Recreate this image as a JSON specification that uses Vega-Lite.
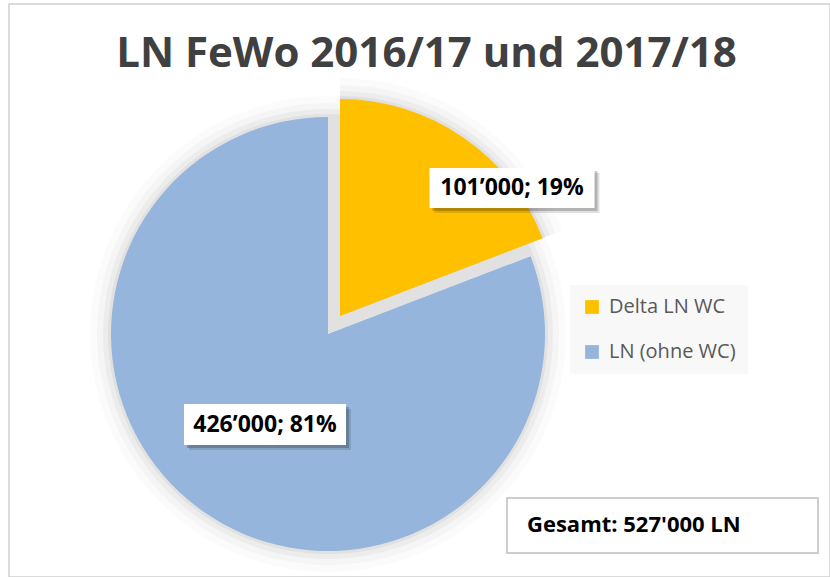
{
  "$schema": "https://vega.github.io/schema/vega-lite/v6.json",
  "width": 821,
  "height": 573,
  "autosize": {"type": "none"},
  "padding": {"left": 9, "top": 4, "right": 0, "bottom": 0},
  "background": "white",
  "view": {"stroke": "#D0D0D0", "strokeWidth": 1.5, "fill": "white"},
  "title": {
    "text": "LN FeWo 2016/17 und 2017/18",
    "font": "Open Sans",
    "fontSize": 42,
    "fontWeight": "bold",
    "color": "#404040",
    "anchor": "middle",
    "offset": -72,
    "dx": 7
  },
  "config": {
    "view": {"stroke": "#D0D0D0", "strokeWidth": 1.5},
    "font": "Open Sans"
  },
  "data": {
    "values": [
      {"cat": "Delta LN WC", "value": 101000, "label": "101’000; 19%"},
      {"cat": "LN (ohne WC)", "value": 426000, "label": "426’000; 81%"}
    ]
  },
  "transform": [
    {"stack": "value", "groupby": [], "as": ["v0", "v1"], "sort": [{"field": "cat", "order": "ascending"}]}
  ],
  "layer": [
    {
      "mark": {"type": "arc", "outerRadius": 238, "xOffset": -91.5, "yOffset": 43.5, "fill": "#000", "fillOpacity": 0.015},
      "encoding": {
        "theta": {"field": "v0", "type": "quantitative", "scale": {"domain": [0, 527000]}},
        "theta2": {"field": "v1"}
      }
    },
    {
      "mark": {"type": "arc", "outerRadius": 231, "xOffset": -91.5, "yOffset": 43.5, "fill": "#000", "fillOpacity": 0.025},
      "encoding": {
        "theta": {"field": "v0", "type": "quantitative"},
        "theta2": {"field": "v1"}
      }
    },
    {
      "mark": {"type": "arc", "outerRadius": 225, "xOffset": -91.5, "yOffset": 43.5, "fill": "#000", "fillOpacity": 0.035},
      "encoding": {
        "theta": {"field": "v0", "type": "quantitative"},
        "theta2": {"field": "v1"}
      }
    },
    {
      "mark": {"type": "arc", "outerRadius": 220, "xOffset": -91.5, "yOffset": 43.5, "fill": "#000", "fillOpacity": 0.045},
      "encoding": {
        "theta": {"field": "v0", "type": "quantitative"},
        "theta2": {"field": "v1"}
      }
    },
    {
      "transform": [{"filter": "datum.cat === 'Delta LN WC'"}],
      "mark": {"type": "arc", "outerRadius": 238, "xOffset": -79.5, "yOffset": 25.5, "fill": "#000", "fillOpacity": 0.015},
      "encoding": {
        "theta": {"field": "v0", "type": "quantitative"},
        "theta2": {"field": "v1"}
      }
    },
    {
      "transform": [{"filter": "datum.cat === 'Delta LN WC'"}],
      "mark": {"type": "arc", "outerRadius": 231, "xOffset": -79.5, "yOffset": 25.5, "fill": "#000", "fillOpacity": 0.025},
      "encoding": {
        "theta": {"field": "v0", "type": "quantitative"},
        "theta2": {"field": "v1"}
      }
    },
    {
      "transform": [{"filter": "datum.cat === 'Delta LN WC'"}],
      "mark": {"type": "arc", "outerRadius": 225, "xOffset": -79.5, "yOffset": 25.5, "fill": "#000", "fillOpacity": 0.035},
      "encoding": {
        "theta": {"field": "v0", "type": "quantitative"},
        "theta2": {"field": "v1"}
      }
    },
    {
      "transform": [{"filter": "datum.cat === 'Delta LN WC'"}],
      "mark": {"type": "arc", "outerRadius": 220, "xOffset": -79.5, "yOffset": 25.5, "fill": "#000", "fillOpacity": 0.045},
      "encoding": {
        "theta": {"field": "v0", "type": "quantitative"},
        "theta2": {"field": "v1"}
      }
    },
    {
      "transform": [{"filter": "datum.cat === 'LN (ohne WC)'"}],
      "mark": {"type": "arc", "outerRadius": 217, "xOffset": -91.5, "yOffset": 43.5},
      "encoding": {
        "theta": {"field": "v0", "type": "quantitative"},
        "theta2": {"field": "v1"},
        "color": {
          "field": "cat",
          "type": "nominal",
          "scale": {"domain": ["Delta LN WC", "LN (ohne WC)"], "range": ["#FFC000", "#95B5DC"]},
          "legend": {
            "title": null,
            "orient": "none",
            "legendX": 561,
            "legendY": 281,
            "padding": 12,
            "fillColor": "#F8F8F8",
            "symbolType": "square",
            "symbolSize": 190,
            "symbolStrokeWidth": 0,
            "labelFont": "Open Sans",
            "labelFontSize": 20,
            "labelColor": "#595959",
            "labelOffset": 7,
            "rowPadding": 25
          }
        }
      }
    },
    {
      "transform": [{"filter": "datum.cat === 'Delta LN WC'"}],
      "mark": {"type": "arc", "outerRadius": 217, "xOffset": -79.5, "yOffset": 25.5},
      "encoding": {
        "theta": {"field": "v0", "type": "quantitative"},
        "theta2": {"field": "v1"},
        "color": {"field": "cat", "type": "nominal"}
      }
    },
    {
      "transform": [{"filter": "datum.cat === 'Delta LN WC'"}],
      "mark": {"type": "point", "shape": "M-1,-0.2424H1V0.2424H-1Z", "size": 27225, "filled": true, "fill": "#000", "opacity": 0.12, "strokeWidth": 0, "xOffset": 97.5, "yOffset": -97.5},
      "encoding": {}
    },
    {
      "transform": [{"filter": "datum.cat === 'Delta LN WC'"}],
      "mark": {"type": "point", "shape": "M-1,-0.2424H1V0.2424H-1Z", "size": 27225, "filled": true, "fill": "#000", "opacity": 0.2, "strokeWidth": 0, "xOffset": 95.5, "yOffset": -99.5},
      "encoding": {}
    },
    {
      "transform": [{"filter": "datum.cat === 'Delta LN WC'"}],
      "mark": {"type": "point", "shape": "M-1,-0.2424H1V0.2424H-1Z", "size": 27225, "filled": true, "fill": "#FFFFFF", "opacity": 1, "strokeWidth": 0, "xOffset": 92.5, "yOffset": -102.5},
      "encoding": {}
    },
    {
      "transform": [{"filter": "datum.cat === 'Delta LN WC'"}],
      "mark": {"type": "text", "font": "Open Sans", "fontSize": 23, "fontWeight": "bold", "color": "#000", "align": "center", "baseline": "middle", "xOffset": 92.5, "yOffset": -102.5},
      "encoding": {"text": {"field": "label"}}
    },
    {
      "transform": [{"filter": "datum.cat === 'LN (ohne WC)'"}],
      "mark": {"type": "point", "shape": "M-1,-0.2531H1V0.2531H-1Z", "size": 26244, "filled": true, "fill": "#000", "opacity": 0.12, "strokeWidth": 0, "xOffset": -149.5, "yOffset": 139},
      "encoding": {}
    },
    {
      "transform": [{"filter": "datum.cat === 'LN (ohne WC)'"}],
      "mark": {"type": "point", "shape": "M-1,-0.2531H1V0.2531H-1Z", "size": 26244, "filled": true, "fill": "#000", "opacity": 0.2, "strokeWidth": 0, "xOffset": -151.5, "yOffset": 137},
      "encoding": {}
    },
    {
      "transform": [{"filter": "datum.cat === 'LN (ohne WC)'"}],
      "mark": {"type": "point", "shape": "M-1,-0.2531H1V0.2531H-1Z", "size": 26244, "filled": true, "fill": "#FFFFFF", "opacity": 1, "strokeWidth": 0, "xOffset": -154.5, "yOffset": 134},
      "encoding": {}
    },
    {
      "transform": [{"filter": "datum.cat === 'LN (ohne WC)'"}],
      "mark": {"type": "text", "font": "Open Sans", "fontSize": 23, "fontWeight": "bold", "color": "#000", "align": "center", "baseline": "middle", "xOffset": -154.5, "yOffset": 134},
      "encoding": {"text": {"field": "label"}}
    },
    {
      "data": {"values": [{"t": "Gesamt: 527'000 LN"}]},
      "layer": [
        {
          "mark": {"type": "point", "shape": "M-1,-0.1768H1V0.1768H-1Z", "size": 96721, "filled": true, "fill": "#FFFFFF", "opacity": 1, "stroke": "#BFBFBF", "strokeWidth": 1.5, "xOffset": 243, "yOffset": 235},
          "encoding": {}
        },
        {
          "mark": {"type": "text", "font": "Open Sans", "fontSize": 22, "fontWeight": "bold", "color": "#000", "align": "left", "baseline": "middle", "xOffset": 107.5, "yOffset": 234.5},
          "encoding": {"text": {"field": "t"}}
        }
      ]
    }
  ]
}
